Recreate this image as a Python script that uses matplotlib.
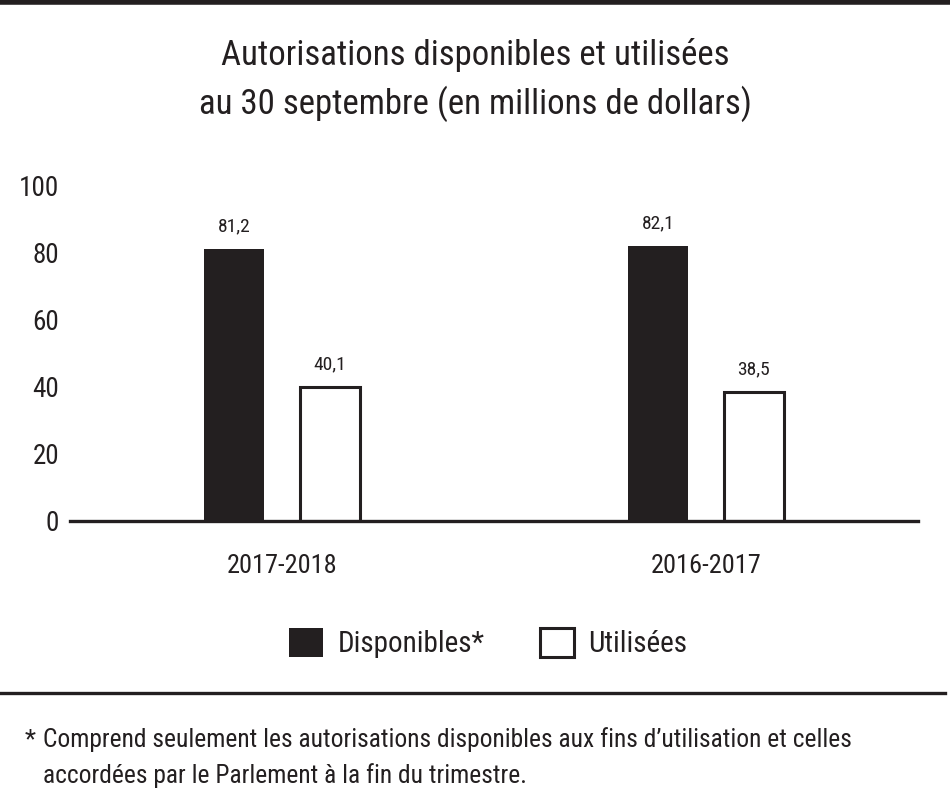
import matplotlib
matplotlib.use("Agg")
import matplotlib.pyplot as plt
import numpy as np
from matplotlib.lines import Line2D

plt.rcParams['font.family'] = ['Roboto Condensed', 'DejaVu Sans Condensed', 'Noto Sans', 'DejaVu Sans']
plt.rcParams['font.stretch'] = 'condensed'

# Data
periods = ["2017-2018", "2016-2017"]
disponibles = [81.2, 82.1]
utilisees = [40.1, 38.5]
yticks = [0, 20, 40, 60, 80, 100]

INK = '#231f20'

fig = plt.figure(figsize=(9.5, 7.95), dpi=100)
ax = fig.add_axes([0.0737, 0.3447, 0.8926, 0.4214])

x = np.arange(len(periods))
w = 0.14
off = 0.113
b1 = ax.bar(x - off, disponibles, w, color=INK, edgecolor=INK, linewidth=0,
            label="Disponibles*")
b2 = ax.bar(x + off, utilisees, w, color='white', edgecolor=INK, linewidth=2.2,
            label="Utilisées")

# value labels
for bars, vals in ((b1, disponibles), (b2, utilisees)):
    for r, v in zip(bars, vals):
        ax.text(r.get_x() + r.get_width() / 2, v + 4, f"{v:.1f}".replace('.', ','),
                ha='center', va='bottom', fontsize=14, color=INK)

ax.set_xlim(-0.5, 1.5)
ax.set_ylim(0, 100)
ax.set_yticks(yticks)
ax.set_yticklabels([str(t) for t in yticks], fontsize=19.5, color=INK)
ax.set_xticks(x)
ax.set_xticklabels(periods, fontsize=19, color=INK)
ax.tick_params(axis='y', length=0, pad=8)
ax.tick_params(axis='x', length=0, pad=24)
for s in ('top', 'right', 'left'):
    ax.spines[s].set_visible(False)
ax.spines['bottom'].set_linewidth(2.4)
ax.spines['bottom'].set_color(INK)
ax.set_facecolor('none')

# title
fig.text(0.5, 0.918, "Autorisations disponibles et utilisées",
         ha='center', va='baseline', fontsize=25, color=INK)
fig.text(0.5, 0.857, "au 30 septembre (en millions de dollars)",
         ha='center', va='baseline', fontsize=25, color=INK)

# legend
fig.legend(handles=[b1, b2], loc='center', bbox_to_anchor=(0.514, 0.191), ncol=2,
           frameon=False, fontsize=21, handlelength=1.15, handleheight=1.15,
           columnspacing=1.9, handletextpad=0.5, labelcolor=INK)

# frame lines
fig.add_artist(Line2D([0, 1], [0.998, 0.998], transform=fig.transFigure, color=INK, lw=4))
fig.add_artist(Line2D([0, 0.995], [0.128, 0.128], transform=fig.transFigure, color=INK, lw=2.4))

# footnote
fig.text(0.026, 0.0604, "*", ha='left', va='baseline', fontsize=18.4, color=INK)
fig.text(0.045, 0.0604, "Comprend seulement les autorisations disponibles aux fins d\u2019utilisation et celles",
         ha='left', va='baseline', fontsize=18.4, color=INK)
fig.text(0.045, 0.0151, "accordées par le Parlement à la fin du trimestre.",
         ha='left', va='baseline', fontsize=18.4, color=INK)

fig.savefig("out.png", dpi=100)
